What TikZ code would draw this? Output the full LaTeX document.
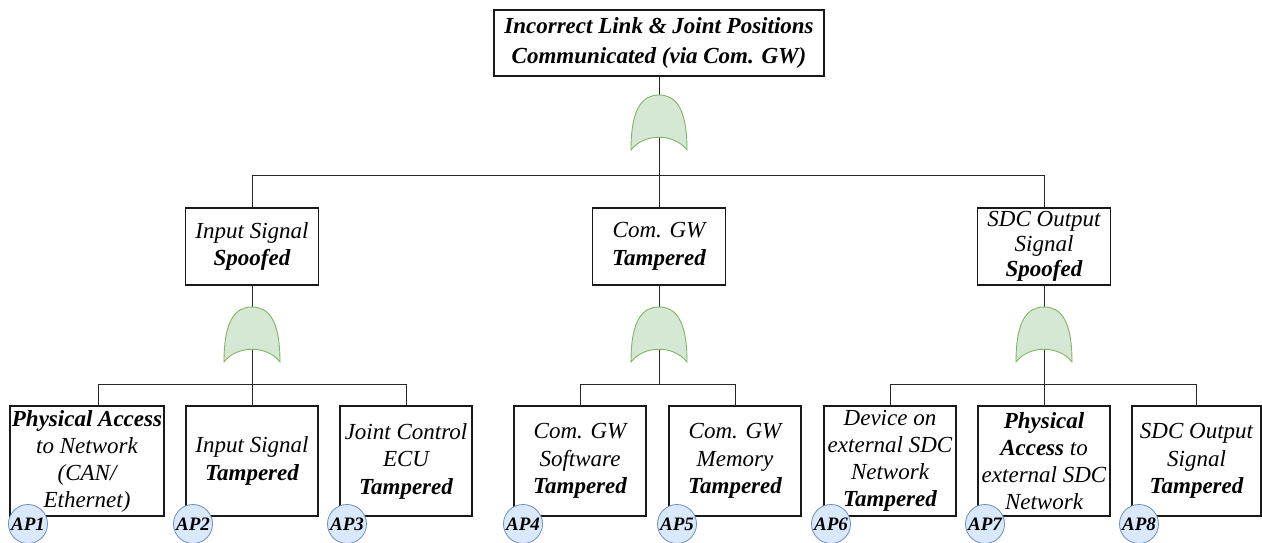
\documentclass[tikz,border=0pt]{standalone}
\usepackage{fontspec}
\newfontfamily\tnr{Liberation Serif}
\definecolor{gfill}{HTML}{D5E8D4}
\definecolor{gline}{HTML}{82B366}
\definecolor{apfill}{HTML}{DAE8FC}
\definecolor{apline}{HTML}{6C8EBF}
\begin{document}
\begin{tikzpicture}[x=1pt,y=-1pt,
  box/.style={draw=black!90, line width=1.1pt, fill=white, inner sep=0pt, align=center,
    font=\tnr\fontsize{23}{27.5}\selectfont\itshape},
  midbox/.style={box, minimum width=133pt, minimum height=77pt},
  leafbox/.style={box, minimum width=132pt, minimum height=110pt},
  wire/.style={draw=black!85, line width=1pt},
  aplabel/.style={circle, draw=apline, fill=apfill, line width=0.8pt, minimum size=39pt, inner sep=0pt,
    font=\tnr\fontsize{19}{19}\selectfont\bfseries\itshape},
  orgate/.pic={\path[fill=gfill, draw=gline, line width=0.9pt]
      (-28,55) .. controls (-28,12) and (-16,0) .. (0,0)
      .. controls (16,0) and (28,12) .. (28,55)
      .. controls (15,38) and (-15,38) .. (-28,55) -- cycle;}
]
\useasboundingbox (0,0) rectangle (1262,543);

% top event
\node[box, minimum width=330pt, minimum height=66pt,
  font=\tnr\fontsize{23}{30}\selectfont\itshape\bfseries] (top) at (659,43)
  {Incorrect Link \& Joint Positions\\Communicated (via Com. GW)};

% intermediate events
\node[midbox] (m1) at (252,246.5) {Input Signal\\\textbf{Spoofed}};
\node[midbox] (m2) at (659,246.5) {Com. GW\\\textbf{Tampered}};
\node[midbox, font=\tnr\fontsize{23}{25}\selectfont\itshape] (m3) at (1044,246.5) {SDC Output\\Signal\\\textbf{Spoofed}};

% leaves
\node[leafbox, minimum width=154pt, font=\tnr\fontsize{23}{27}\selectfont\itshape] (l1) at (87,461)
  {\textbf{Physical Access}\\to Network\\(CAN/\\Ethernet)};
\node[leafbox] (l2) at (252,461) {Input Signal\\\textbf{Tampered}};
\node[leafbox] (l3) at (406,461) {Joint Control\\ECU\\\textbf{Tampered}};
\node[leafbox] (l4) at (580,461) {Com. GW\\Software\\\textbf{Tampered}};
\node[leafbox] (l5) at (735,461) {Com. GW\\Memory\\\textbf{Tampered}};
\node[leafbox, font=\tnr\fontsize{23}{27}\selectfont\itshape] (l6) at (890,461)
  {Device on\\external SDC\\Network\\\textbf{Tampered}};
\node[leafbox, font=\tnr\fontsize{23}{27}\selectfont\itshape] (l7) at (1044,461)
  {\textbf{Physical}\\\textbf{Access} to\\external SDC\\Network};
\node[leafbox, minimum width=129pt] (l8) at (1196.5,461) {SDC Output\\Signal\\\textbf{Tampered}};

% junctions
\coordinate (j0) at (659,175);
\coordinate (j1) at (252,384);
\coordinate (j2) at (659,384);
\coordinate (j3) at (1044,384);

% connectors
\draw[wire] (top.south) -- (j0);
\draw[wire] (j0) -| (m1.north);
\draw[wire] (j0) -- (m2.north);
\draw[wire] (j0) -| (m3.north);

\draw[wire] (m1.south) -- (j1);
\draw[wire] (j1) -| ([xshift=11pt]l1.north);
\draw[wire] (j1) -- (l2.north);
\draw[wire] (j1) -| (l3.north);

\draw[wire] (m2.south) -- (j2);
\draw[wire] (j2) -| (l4.north);
\draw[wire] (j2) -| (l5.north);

\draw[wire] (m3.south) -- (j3);
\draw[wire] (j3) -| (l6.north);
\draw[wire] (j3) -- (l7.north);
\draw[wire] (j3) -| (l8.north);

% OR gates
\pic at (659,95) {orgate};
\pic at (252,307) {orgate};
\pic at (659,307) {orgate};
\pic at (1044,307) {orgate};

% attack path markers
\node[aplabel] (ap1) at (28,524) {AP1};
\node[aplabel] (ap2) at (193,524) {AP2};
\node[aplabel] (ap3) at (347,524) {AP3};
\node[aplabel] (ap4) at (523,524) {AP4};
\node[aplabel] (ap5) at (677,524) {AP5};
\node[aplabel] (ap6) at (831,524) {AP6};
\node[aplabel] (ap7) at (985,524) {AP7};
\node[aplabel] (ap8) at (1139,524) {AP8};
\end{tikzpicture}
\end{document}
